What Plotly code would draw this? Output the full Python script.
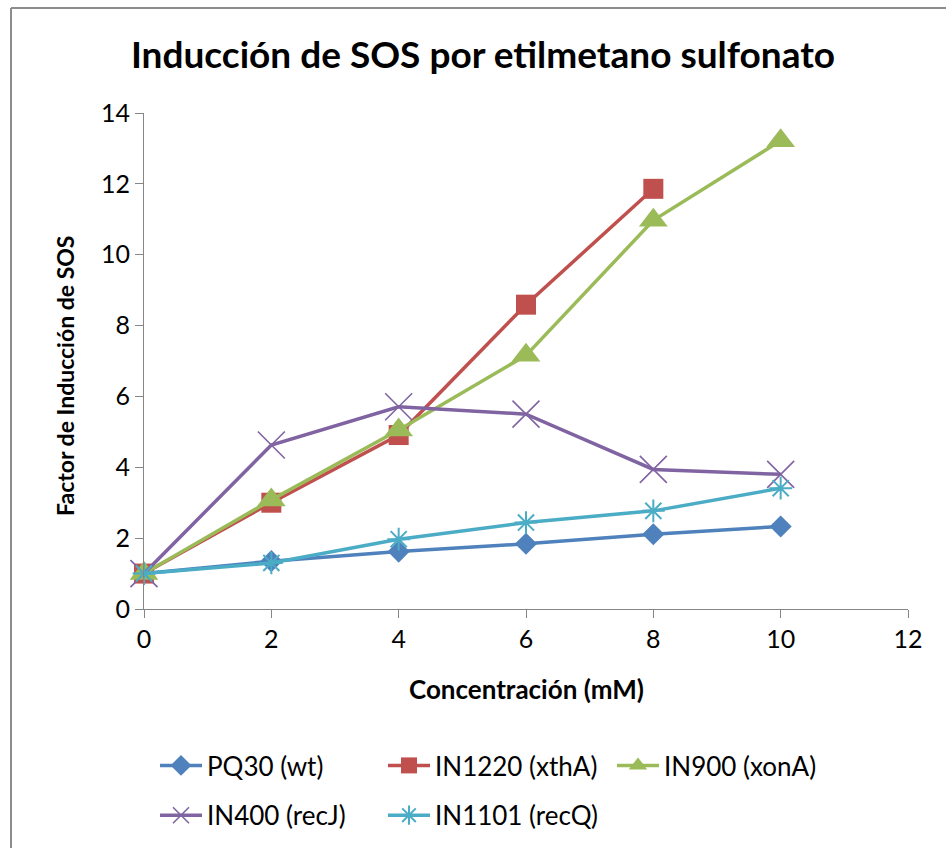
import plotly.graph_objects as go

# Ethyl methanesulfonate concentration (mM)
conc = [0, 2, 4, 6, 8, 10]

pq30_wt = [1.0, 1.35, 1.62, 1.84, 2.11, 2.33]
in1220_xtha = [1.0, 3.0, 4.91, 8.59, 11.86]
in900_xona = [1.0, 3.08, 5.05, 7.16, 10.97, 13.22]
in400_recj = [1.0, 4.63, 5.71, 5.50, 3.94, 3.80]
in1101_recq = [1.0, 1.30, 1.97, 2.44, 2.77, 3.41]

series_names = ["PQ30 (wt)", "IN1220 (xthA)", "IN900 (xonA)", "IN400 (recJ)", "IN1101 (recQ)"]

W, H = 946, 848
L, R, T, B = 144, 38, 113, 239
PW, PH = W - L - R, H - T - B

FONT = "Lato"

def px_x(p):
    return (p - L) / PW

def px_y(p):
    return 1 - (p - T) / PH

fig = go.Figure()

styles = [
    (pq30_wt, "#4F81BD", dict(symbol="diamond", size=17), "legend"),
    (in1220_xtha, "#C0504D", dict(symbol="square", size=20), "legend2"),
    (in900_xona, "#9BBB59", dict(symbol="triangle-up", size=25), "legend3"),
    (in400_recj, "#8064A2", dict(symbol="x-thin-open", size=27, line=dict(width=1.6)), "legend"),
    (in1101_recq, "#4BACC6", dict(symbol="asterisk-open", size=19, line=dict(width=2)), "legend2"),
]

for name, (vals, color, mk, lg) in zip(series_names, styles):
    mk = dict(mk)
    mk["color"] = color
    if "line" in mk:
        mk["line"]["color"] = color
    fig.add_trace(go.Scatter(
        x=conc[:len(vals)], y=vals, name=name, mode="lines+markers",
        line=dict(color=color, width=3.5), marker=mk,
        cliponaxis=False, legend=lg, legendgroup=name,
    ))

axis_common = dict(
    showgrid=False, zeroline=False, showline=True, linecolor="#868686", linewidth=1,
    ticks="outside", ticklen=8, tickcolor="#868686",
    tickfont=dict(family=FONT, size=25, color="#000"),
)

fig.update_xaxes(range=[0, 12], dtick=2, **axis_common)
fig.update_yaxes(range=[0, 14], dtick=2, **axis_common)

legend_common = dict(
    orientation="v", xanchor="left", yanchor="top", y=px_y(742),
    font=dict(family=FONT, size=26, color="#000"), tracegroupgap=13,
    bgcolor="rgba(0,0,0,0)", itemwidth=42,
)

fig.update_layout(
    width=W, height=H,
    margin=dict(l=L, r=R, t=T, b=B, autoexpand=False),
    paper_bgcolor="white", plot_bgcolor="white",
    showlegend=True,
    title=dict(text="<b>Inducción de SOS por etilmetano sulfonato</b>",
               font=dict(family=FONT, size=37, color="#000"),
               xref="container", x=483 / W, xanchor="center",
               yref="container", y=1 - 55 / H, yanchor="middle"),
    legend=dict(x=px_x(155), **legend_common),
    legend2=dict(x=px_x(383), **legend_common),
    legend3=dict(x=px_x(612), **legend_common),
    annotations=[
        dict(text="<b>Factor de Inducción de SOS</b>", xref="paper", yref="paper",
             x=px_x(65), y=px_y(376), xanchor="center", yanchor="middle",
             textangle=-90, showarrow=False, font=dict(family=FONT, size=23, color="#000")),
        dict(text="<b>Concentración (mM)</b>", xref="paper", yref="paper",
             x=0.5, y=px_y(689), xanchor="center", yanchor="middle",
             showarrow=False, font=dict(family=FONT, size=26, color="#000")),
    ],
    shapes=[
        # chart-area frame along top and left edges
        dict(type="line", xref="paper", yref="paper", x0=px_x(11), x1=px_x(W + 5),
             y0=px_y(8), y1=px_y(8), line=dict(color="#8C8C8C", width=2)),
        dict(type="line", xref="paper", yref="paper", x0=px_x(11), x1=px_x(11),
             y0=px_y(8), y1=px_y(H + 5), line=dict(color="#8C8C8C", width=2)),
    ],
)

fig.write_html("out.html")
